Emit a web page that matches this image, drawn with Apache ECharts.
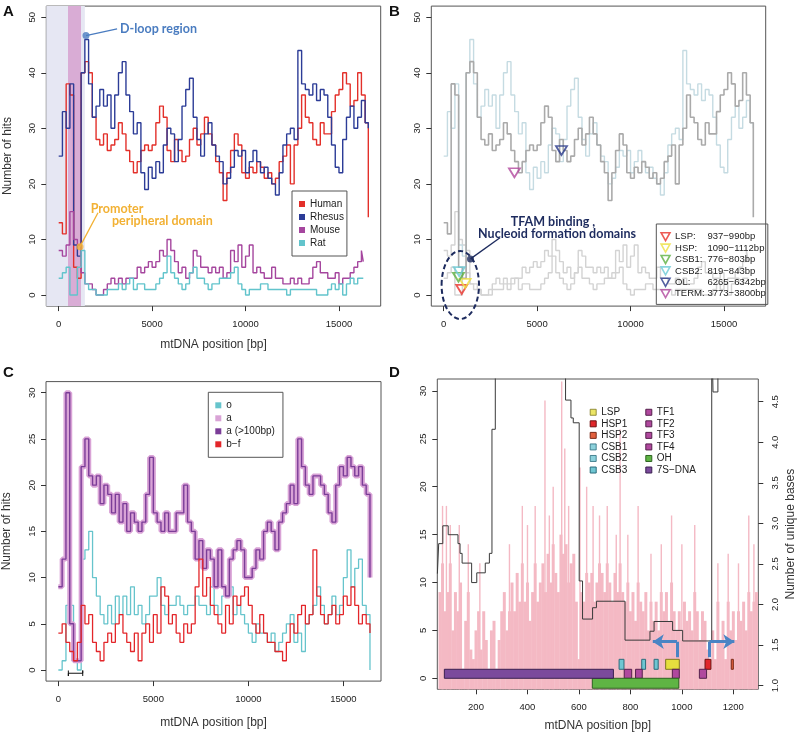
<!DOCTYPE html>
<html lang="en">
<head>
<meta charset="UTF-8">
<title>mtDNA hits</title>
<script src="https://cdn.jsdelivr.net/npm/echarts@6/dist/echarts.min.js"></script>
<style>html,body{margin:0;background:#fff}#main{width:800px;height:733px}</style>
</head>
<body>
<div id="main"></div>
<script>
// ---------- data (200 bp steps) ----------
var posPrimate = [], posRodent = [], posC = [], posPink = [];
for (var p = 0; p <= 16400; p += 200) { posPrimate.push(p); posC.push(p); }
posPrimate.push(16569);
for (p = 0; p <= 16200; p += 200) posRodent.push(p);
posRodent.push(16300);
for (p = 60; p <= 1290; p += 10) posPink.push(p);

var human = [13,11,38,36,5,3,40,42,40,32, 28,27,29,26,27,28,31,29,26,24,
  22,24,26,27,26,27,31,34,32,26, 24,28,26,24,25,28,30,27,29,32,
  29,27,24,22,17,22,26,29,27,22, 21,23,22,24,23,21,22,20,21,24,
  25,27,20,27,30,36,32,31,28,27, 31,29,29,33,36,37,40,38,34,35,
  40,36,31,14];
var rhesus = [25,33,30,38,9,7,40,46,38,32, 34,37,34,36,30,36,40,42,36,33,
  29,31,22,19,23,21,24,22,27,30, 29,24,28,34,37,39,32,28,25,29,
  31,27,25,24,20,21,23,26,25,26, 22,24,26,24,22,23,21,20,18,22,
  27,29,30,28,44,38,37,36,38,35, 37,36,32,27,23,22,28,32,34,30,
  32,35,31,30];
var mouse = [8,7,9,15,10,9,4,2,2,1, 0,0,1,2,3,2,3,2,3,3,
  3,5,4,5,6,5,6,8,7,10, 8,6,4,5,3,4,8,7,5,5,
  4,5,4,5,3,4,8,6,9,5, 7,9,4,5,4,3,3,5,3,3,
  2,2,3,2,3,2,2,3,5,6, 4,4,3,3,4,2,3,3,4,5,
  6,8,6];
var rat = [3,4,5,0,0,5,8,2,1,1, 0,0,0,1,1,1,2,1,2,3,
  1,2,2,1,1,1,2,3,4,7, 4,3,2,1,2,4,5,3,3,2,
  1,2,2,3,3,3,4,5,2,1, 0,1,1,1,2,2,1,1,1,1,
  1,0,1,1,1,1,1,1,1,0, 0,0,1,2,1,2,0,2,3,2,
  3,3,3];

var hitsO = [0,1,7,7,1,0,12,13,15,10, 8,6,5,7,5,8,6,8,6,9,
  6,7,5,6,8,8,10,7,6,7, 7,8,7,6,7,7,8,7,7,6,
  9,7,6,8,8,9,6,7,6,5, 4,3,5,4,4,3,4,2,3,4,
  5,6,3,4,2,5,6,7,9,7, 5,6,8,6,7,10,13,9,11,12,
  7,6,0];
var hitsA = [9,12,30,5,1,1,22,25,21,20, 21,18,20,19,17,19,16,18,15,17,
  16,15,16,19,23,17,16,15,17,15, 15,17,17,20,16,15,12,14,11,13,
  12,9,13,9,8,12,13,14,13,10, 10,11,13,12,15,16,15,13,16,17,
  18,20,18,25,22,20,19,21,21,20, 19,17,16,20,22,21,23,22,21,22,
  20,19,10];
var hitsBF = [4,5,3,2,1,3,7,5,6,3, 2,1,3,4,3,5,6,4,3,2,
  4,1,4,5,3,6,4,9,8,5, 6,4,3,5,4,5,9,12,8,10,
  7,6,5,4,7,5,8,7,8,9, 7,5,4,6,4,3,3,2,2,1,
  3,5,4,6,7,5,6,13,8,6, 5,6,7,5,6,8,7,9,7,5,
  6,5,4];

// panel B motif markers
var motifNames = ['LSP', 'HSP', 'CSB1', 'CSB2', 'OL', 'TERM'];
var motifRange = ['937\u2212990bp', '1090\u22121112bp', '776\u2212803bp', '819\u2212843bp', '6265\u22126342bp', '3773\u22123800bp'];
var motifX = [963, 1150, 790, 831, 6304, 3787];
var motifY = [1.0, 2.1, 3.2, 4.2, 26, 22];
var motifColor = ['#e8322a', '#eee040', '#5cb040', '#6ccbd6', '#27378a', '#b2479e'];

// panel D: per-position hits (10 bp body + thin peaks) and unique-base step line
var pinkBody = [9,12,7,9,12,5,9,7,10,1, 6,9,3,2,5,7,3,7,4,1,
  5,6,1,4,7,9,5,7,10,7, 11,8,12,8,10,6,9,12,8,10,
  12,9,13,10,14,11,9,15,13,14, 10,12,13,8,2,9,8,11,10,11,
  8,10,12,11,9,12,10,8,11,9, 12,9,8,10,7,9,6,10,8,7,
  9,5,8,6,8,5,9,7,9,6, 10,7,5,7,4,8,6,7,5,9,
  7,4,7,6,3,1,5,2,8,4, 6,2,8,5,7,4,7,6,8,5,
  9,7,8,9];
var peakX = [70,85,100,135,170,215,330,380,400,430,468,485,500,533,545,560,604,630,655,680,710,745,760,790,830,880,920,960,1000,1050,1140,1180,1220,1260,1280];
var peakY = [18,18,16,16,14,12,14,18,16,18,29,17,20,31,24,18,22,20,18,17,18,15,26,15,18,13,14,17,14,16,12,13,12,17,14];
var uniqX = [50,55,71,92,130,138,146,183,203,236,252,262,275,548,569,578,601,614,653,668,779,876,892,964,1003,1116,1121,1140,1297];
var uniqY = [2.38,2.75,2.97,2.86,2.75,2.63,2.51,2.27,2.39,2.51,2.63,4.16,5.5,4.52,4.30,4.24,2.29,1.82,1.96,2.04,1.56,1.67,1.79,1.68,1.55,5.5,4.62,5.5,5.5];

var featNames = ['LSP','HSP1','HSP2','CSB1','CSB2','CSB3','TF1','TF2','TF3','TF4','OH','7S\u2212DNA'];
var featStart = [937,1090,1192,756,844,892,776,820,963,1068,652,77];
var featEnd = [990,1113,1200,775,859,908,805,846,990,1096,988,734];
var featLow = [0.94,0.94,0.94,0.94,0.94,0.94,0,0,0,0,-1.04,0];
var featHigh = [1.98,1.98,1.98,1.98,1.98,1.98,0.94,0.94,0.94,0.94,0,0.94];
var featColor = ['#e6df3e','#e0262a','#e2603e','#6fc6d2','#6fc6d2','#6fc6d2','#b0489e','#b0489e','#b0489e','#b0489e','#5fb444','#7b4a9c'];
var featBorder = ['#7d7720','#6e1010','#7a2a18','#2b6c7c','#2b6c7c','#2b6c7c','#55204c','#55204c','#55204c','#55204c','#2d6420','#3a2050'];

var arrowStems = [[[981, 2.2], [981, 3.82]], [[1107, 2.2], [1107, 3.82]]];
var arrowHeads = [[[981, 3.82], [887, 3.82]], [[1107, 3.82], [1204, 3.82]]];

// ---------- helpers ----------
var FONT = 'Liberation Sans, Arial, sans-serif';
function zip(xs, ys) { return ys.map(function (y, i) { return [xs[i], y]; }); }
function plain(v) { return String(v); }

function xAx(grid, min, max, ticks, name, gap) {
  return {
    type: 'value', gridIndex: grid, min: min, max: max,
    name: name || '', nameLocation: 'middle', nameGap: gap || 31,
    nameTextStyle: { fontFamily: FONT, fontSize: 12, color: '#333' },
    axisLine: { show: false, onZero: false }, splitLine: { show: false },
    axisTick: { length: 5, inside: false, customValues: ticks, lineStyle: { color: '#333' } },
    axisLabel: { customValues: ticks, margin: 13, fontFamily: FONT, fontSize: 9.5, color: '#222', formatter: plain }
  };
}
function yAx(grid, min, max, ticks, name, right, fmt) {
  return {
    type: 'value', gridIndex: grid, min: min, max: max, position: right ? 'right' : 'left',
    name: name || '', nameLocation: 'middle', nameGap: right ? 26 : 33, nameRotate: 90,
    nameTextStyle: { fontFamily: FONT, fontSize: 12, color: '#333' },
    axisLine: { show: false, onZero: false }, splitLine: { show: false },
    axisTick: { length: 5, inside: false, customValues: ticks, lineStyle: { color: '#333' } },
    axisLabel: { customValues: ticks, rotate: 90, margin: right ? 12 : 9, fontFamily: FONT, fontSize: 9.5,
      color: '#222', formatter: fmt || plain }
  };
}
function stepLine(name, xi, yi, data, color, width, z) {
  return { name: name, type: 'line', xAxisIndex: xi, yAxisIndex: yi, data: data, step: 'end',
    symbol: 'none', z: z || 2, lineStyle: { color: color, width: width }, itemStyle: { color: color },
    silent: true, animation: false };
}

var series = [];
// A: shaded D-loop and promoter bands
series.push({
  type: 'line', xAxisIndex: 0, yAxisIndex: 0, data: [], z: 1, silent: true,
  markArea: { silent: true, data: [
    [{ xAxis: -663, itemStyle: { color: '#e6e7f3' } }, { xAxis: 1400 }],
    [{ xAxis: 498, itemStyle: { color: '#d9acd5' } }, { xAxis: 1194 }]
  ] }
});
series.push(stepLine('Human', 0, 0, zip(posPrimate, human), '#e3302a', 1.4));
series.push(stepLine('Rhesus', 0, 0, zip(posPrimate, rhesus), '#2c3c97', 1.4));
series.push(stepLine('Mouse', 0, 0, zip(posRodent, mouse), '#a5469e', 1.4));
series.push(stepLine('Rat', 0, 0, zip(posRodent, rat), '#62c4cc', 1.4));
// A annotations (leader lines)
series.push({ type: 'line', xAxisIndex: 0, yAxisIndex: 0, z: 5, silent: true, symbol: 'none',
  data: [[1461, 46.7], [3125, 47.9]], lineStyle: { color: '#4a7cc0', width: 1.3 } });
series.push({ type: 'scatter', xAxisIndex: 0, yAxisIndex: 0, z: 6, silent: true, symbolSize: 7,
  data: [[1461, 46.7]], itemStyle: { color: '#4a7cc0' } });
series.push({ type: 'line', xAxisIndex: 0, yAxisIndex: 0, z: 5, silent: true, symbol: 'none',
  data: [[1140, 8.7], [2103, 14.8]], lineStyle: { color: '#f2b134', width: 1.3 } });
series.push({ type: 'scatter', xAxisIndex: 0, yAxisIndex: 0, z: 6, silent: true, symbolSize: 7,
  data: [[1140, 8.7]], itemStyle: { color: '#f2b134' } });

// B: the same profiles in grey
series.push(stepLine('', 1, 1, zip(posRodent, mouse), '#d3d3d3', 1.4));
series.push(stepLine('', 1, 1, zip(posRodent, rat), '#d3d3d3', 1.4));
series.push(stepLine('', 1, 1, zip(posPrimate, rhesus), '#c5dbe2', 1.4));
series.push(stepLine('', 1, 1, zip(posPrimate, human), '#aaaaaa', 1.6));
motifNames.forEach(function (n, i) {
  series.push({ name: n, type: 'scatter', xAxisIndex: 1, yAxisIndex: 1, z: 6, silent: true,
    symbol: 'triangle', symbolRotate: 180, symbolSize: [11, 9],
    data: [[motifX[i], motifY[i]]],
    itemStyle: { color: 'rgba(255,255,255,0)', borderColor: motifColor[i], borderWidth: 1.8 } });
});
series.push({ type: 'line', xAxisIndex: 1, yAxisIndex: 1, z: 6, silent: true, symbol: 'none',
  data: [[1433, 6.5], [3013, 10.3]], lineStyle: { color: '#1d2b5e', width: 1.3 } });
series.push({ type: 'scatter', xAxisIndex: 1, yAxisIndex: 1, z: 7, silent: true, symbolSize: 7,
  data: [[1433, 6.5]], itemStyle: { color: '#1d2b5e' } });

// C
series.push(stepLine('o', 2, 2, zip(posC, hitsO), '#66c4cc', 1.3, 2));
series.push(stepLine('a', 2, 2, zip(posC, hitsA), '#d9a3d6', 5, 3));
series.push(stepLine('a (>100bp)', 2, 2, zip(posC, hitsA), '#7b3d98', 1.4, 4));
series.push(stepLine('b\u2212f', 2, 2, zip(posC, hitsBF), '#e3262a', 1.3, 5));
series.push({ type: 'line', xAxisIndex: 2, yAxisIndex: 2, z: 6, silent: true, symbol: 'none',
  data: [[526, -0.05], [526, -0.65], [526, -0.35], [1283, -0.35], [1283, -0.05], [1283, -0.65]],
  lineStyle: { color: '#111', width: 1 } });

// D
function pinkRender(width) {
  return function (params, api) {
    var top = api.coord([api.value(0), api.value(1)]);
    var w = width || api.size([10, 0])[0] + 0.4;
    var bottom = params.coordSys.y + params.coordSys.height;
    return { type: 'rect', shape: { x: top[0] - w / 2, y: top[1], width: w, height: bottom - top[1] },
      style: { fill: '#f4b9c4' } };
  };
}
series.push({ type: 'custom', xAxisIndex: 3, yAxisIndex: 3, z: 1, silent: true,
  data: zip(posPink, pinkBody), renderItem: pinkRender(0) });
series.push({ type: 'custom', xAxisIndex: 3, yAxisIndex: 3, z: 1, silent: true,
  data: zip(peakX, peakY), renderItem: pinkRender(1.4) });
series.push({ type: 'line', xAxisIndex: 3, yAxisIndex: 4, z: 3, silent: true, step: 'end', symbol: 'none',
  data: zip(uniqX, uniqY), lineStyle: { color: '#3a3a3a', width: 1 } });
featNames.forEach(function (n, i) {
  series.push({
    name: n, type: 'custom', xAxisIndex: 3, yAxisIndex: 3, z: 5, silent: true,
    data: [[featStart[i], featEnd[i], featLow[i], featHigh[i]]],
    itemStyle: { color: featColor[i], borderColor: featBorder[i], borderWidth: 1 },
    renderItem: function (params, api) {
      var a = api.coord([api.value(0), api.value(3)]);
      var b = api.coord([api.value(1), api.value(2)]);
      return { type: 'rect', shape: { x: a[0], y: a[1], width: b[0] - a[0], height: b[1] - a[1] },
        style: { fill: featColor[i], stroke: featBorder[i], lineWidth: 1 } };
    }
  });
});
series.push({ type: 'lines', coordinateSystem: 'cartesian2d', xAxisIndex: 3, yAxisIndex: 3, z: 6,
  silent: true, symbol: 'none', lineStyle: { color: '#4a84c4', width: 3, opacity: 1 },
  data: arrowStems.map(function (c) { return { coords: c }; }) });
series.push({ type: 'lines', coordinateSystem: 'cartesian2d', xAxisIndex: 3, yAxisIndex: 3, z: 6,
  silent: true, symbol: ['none', 'arrow'], symbolSize: 11, lineStyle: { color: '#4a84c4', width: 3, opacity: 1 },
  data: arrowHeads.map(function (c) { return { coords: c }; }) });

var legendText = { fontFamily: FONT, fontSize: 10, color: '#222', lineHeight: 12 };
var downTri = 'path://M0,0L10,0L5,9Z';
var chart = echarts.init(document.getElementById('main'));
chart.setOption({
  animation: false,
  backgroundColor: '#fff',
  grid: [
    { left: 46.3, top: 6.1, width: 334.4, height: 300, show: true, borderColor: '#555', borderWidth: 1 },
    { left: 431.3, top: 6.1, width: 334.4, height: 300, show: true, borderColor: '#555', borderWidth: 1 },
    { left: 46, top: 381.6, width: 335, height: 299.5, show: true, borderColor: '#555', borderWidth: 1 },
    { left: 437.3, top: 379, width: 321, height: 310.3, show: true, borderColor: '#555', borderWidth: 1 }
  ],
  xAxis: [
    xAx(0, -663, 17232, [0, 5000, 10000, 15000], 'mtDNA position [bp]', 32.5),
    xAx(1, -663, 17232, [0, 5000, 10000, 15000]),
    xAx(2, -650, 16980, [0, 5000, 10000, 15000], 'mtDNA position [bp]', 35.5),
    xAx(3, 49.6, 1297, [200, 400, 600, 800, 1000, 1200], 'mtDNA position [bp]', 30)
  ],
  yAxis: [
    yAx(0, -2, 52, [0, 10, 20, 30, 40, 50], 'Number of hits'),
    yAx(1, -2, 52, [0, 10, 20, 30, 40, 50]),
    yAx(2, -1.2, 31.2, [0, 5, 10, 15, 20, 25, 30], 'Number of hits'),
    yAx(3, -1.15, 31.25, [0, 5, 10, 15, 20, 25, 30]),
    yAx(3, 0.954, 4.78, [1, 1.5, 2, 2.5, 3, 3.5, 4, 4.5], 'Number of unique bases', true,
      function (v) { return v.toFixed(1); })
  ],
  legend: [
    { data: ['Human', 'Rhesus', 'Mouse', 'Rat'], orient: 'vertical', left: 292, top: 191,
      icon: 'rect', itemWidth: 6, itemHeight: 6, itemGap: 1, padding: [7, 3, 7, 7],
      borderColor: '#555', borderWidth: 1, textStyle: legendText, selectedMode: false },
    { data: motifNames.map(function (n, i) {
        return { name: n, icon: downTri,
          itemStyle: { color: 'rgba(255,255,255,0)', borderColor: motifColor[i], borderWidth: 1.6 } };
      }),
      orient: 'vertical', left: 656.3, top: 224, itemWidth: 9, itemHeight: 8,
      itemGap: 0, padding: [7, 2, 5, 4], borderColor: '#555', borderWidth: 1, selectedMode: false,
      textStyle: { fontFamily: FONT, fontSize: 9.5, color: '#222', lineHeight: 11.4,
        rich: { a: { width: 32.4, fontFamily: FONT, fontSize: 9.5, color: '#222' },
                b: { fontFamily: FONT, fontSize: 9.5, color: '#222' } } },
      formatter: function (n) { return '{a|' + n + ':}{b|' + motifRange[motifNames.indexOf(n)] + '}'; } },
    { data: ['o', 'a', 'a (>100bp)', 'b\u2212f'], orient: 'vertical', left: 208.3, top: 392.3,
      icon: 'rect', itemWidth: 6, itemHeight: 6, itemGap: 1, padding: [7, 8, 7, 7],
      borderColor: '#555', borderWidth: 1, textStyle: legendText, selectedMode: false },
    { data: featNames.slice(0, 6).map(function (n, i) {
        return { name: n, itemStyle: { color: featColor[i], borderColor: featBorder[i], borderWidth: 1 } };
      }),
      orient: 'vertical', left: 589.7, top: 406.5, icon: 'rect',
      itemWidth: 6, itemHeight: 6, itemGap: 0, padding: 0, selectedMode: false,
      textStyle: { fontFamily: FONT, fontSize: 10, color: '#222', lineHeight: 11.55 } },
    { data: featNames.slice(6).map(function (n, i) {
        return { name: n, itemStyle: { color: featColor[i + 6], borderColor: featBorder[i + 6], borderWidth: 1 } };
      }),
      orient: 'vertical', left: 645.3, top: 406.5, icon: 'rect',
      itemWidth: 6, itemHeight: 6, itemGap: 0, padding: 0, selectedMode: false,
      textStyle: { fontFamily: FONT, fontSize: 10, color: '#222', lineHeight: 11.55 } }
  ],
  graphic: [
    { type: 'text', x: 3, y: 4, style: { text: 'A', font: 'bold 15px ' + FONT, fill: '#111' } },
    { type: 'text', x: 389, y: 4, style: { text: 'B', font: 'bold 15px ' + FONT, fill: '#111' } },
    { type: 'text', x: 3, y: 365, style: { text: 'C', font: 'bold 15px ' + FONT, fill: '#111' } },
    { type: 'text', x: 389, y: 365, style: { text: 'D', font: 'bold 15px ' + FONT, fill: '#111' } },
    { type: 'text', x: 120, y: 29, z: 10, style: { text: 'D-loop region', font: 'bold 12.5px Lato, sans-serif',
      fill: '#4a7cc0', verticalAlign: 'middle' } },
    { type: 'text', x: 90.7, y: 209, z: 10, style: { text: 'Promoter', font: 'bold 12.5px Lato, sans-serif',
      fill: '#f2b134', verticalAlign: 'middle' } },
    { type: 'text', x: 112, y: 221, z: 10, style: { text: 'peripheral domain', font: 'bold 12.5px Lato, sans-serif',
      fill: '#f2b134', verticalAlign: 'middle' } },
    { type: 'text', x: 553, y: 222, z: 10, style: { text: 'TFAM binding ,', font: 'bold 12.5px Lato, sans-serif',
      fill: '#1d2b5e', align: 'center', verticalAlign: 'middle' } },
    { type: 'text', x: 557, y: 234, z: 10, style: { text: 'Nucleoid formation domains', font: 'bold 12.5px Lato, sans-serif',
      fill: '#1d2b5e', align: 'center', verticalAlign: 'middle' } },
    { type: 'ellipse', z: 10, shape: { cx: 460.3, cy: 285, rx: 18.7, ry: 34 },
      style: { fill: 'none', stroke: '#1d2b5e', lineWidth: 2, lineDash: [5, 3] } }
  ],
  series: series
});
</script>
</body>
</html>
